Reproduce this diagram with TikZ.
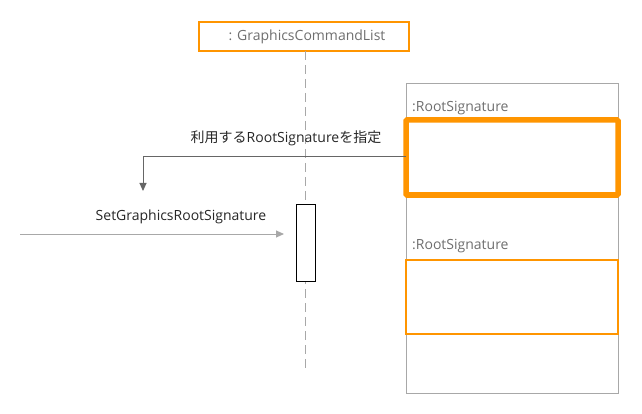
\documentclass[tikz,border=0pt]{standalone}
\usepackage{fontspec}
\setmainfont{Open Sans}
\newfontfamily\jpfont{Noto Sans CJK JP}
\usetikzlibrary{arrows.meta}
\definecolor{umlorange}{HTML}{FF9500}
\definecolor{umlgray}{HTML}{A8A8A8}
\definecolor{umltext}{HTML}{6E6E6E}
\definecolor{umlarrow}{HTML}{666666}
\tikzset{
    objbox/.style={draw=umlorange, line width=2pt},
    selbox/.style={draw=umlorange, line width=5.5pt, rounded corners=1pt},
    thinbox/.style={draw=umlorange, line width=1.6pt},
    lifeline/.style={draw=umlgray, dashed, dash pattern=on 9pt off 5pt, line width=0.8pt},
    msg/.style={font=\fontsize{14pt}{16pt}\selectfont, text=black!85},
    objlabel/.style={font=\fontsize{14pt}{16pt}\selectfont, text=umltext, inner sep=0pt},
}
\begin{document}
\begin{tikzpicture}[x=1pt, y=-1pt]

    \useasboundingbox (0,0) rectangle (642,414);

    % object heads and lifeline
    \coordinate (cl0) at (199,22);
    \coordinate (cl1) at (409,51);
    \coordinate (life0) at (305,51);
    \coordinate (life1) at (305,372);
    \draw[objbox] (cl0) rectangle (cl1);
    \node[objlabel, anchor=base] (clname) at (307,41) {: GraphicsCommandList};
    \draw[lifeline] (life0) -- (life1);

    % activation
    \coordinate (act0) at (296,204);
    \coordinate (act1) at (315,281);
    \draw[black, line width=0.9pt, fill=white] (act0) rectangle (act1);

    % root signature heap
    \coordinate (heap0) at (406,84);
    \coordinate (heap1) at (618,393);
    \draw[umlgray, line width=1pt] (heap0) rectangle (heap1);

    \node[objlabel, anchor=base west] (rsa) at (412,112) {:RootSignature};
    \node[objlabel, anchor=base west] (rsb) at (412,249) {:RootSignature};

    \coordinate (sel0) at (406,120);
    \coordinate (sel1) at (618,195);
    \draw[selbox] (sel0) rectangle (sel1);

    \coordinate (oth0) at (406,260);
    \coordinate (oth1) at (618,334);
    \draw[thinbox] (oth0) rectangle (oth1);

    % messages
    \coordinate (use0) at (406,157);
    \coordinate (use1) at (143,191);
    \draw[umlarrow, line width=1pt, -{Triangle[length=8pt, width=7pt]}]
        (use0) -| (use1);
    \node[msg, anchor=base] (uselabel) at (286,143) {{\jpfont 利用する}RootSignature{\jpfont を指定}};

    \coordinate (call0) at (20,234);
    \coordinate (call1) at (284,234);
    \draw[umlgray, line width=1pt, -{Triangle[length=8pt, width=7pt]}]
        (call0) -- (call1);
    \node[msg, anchor=base] (calllabel) at (181,220) {SetGraphicsRootSignature};

\end{tikzpicture}
\end{document}
